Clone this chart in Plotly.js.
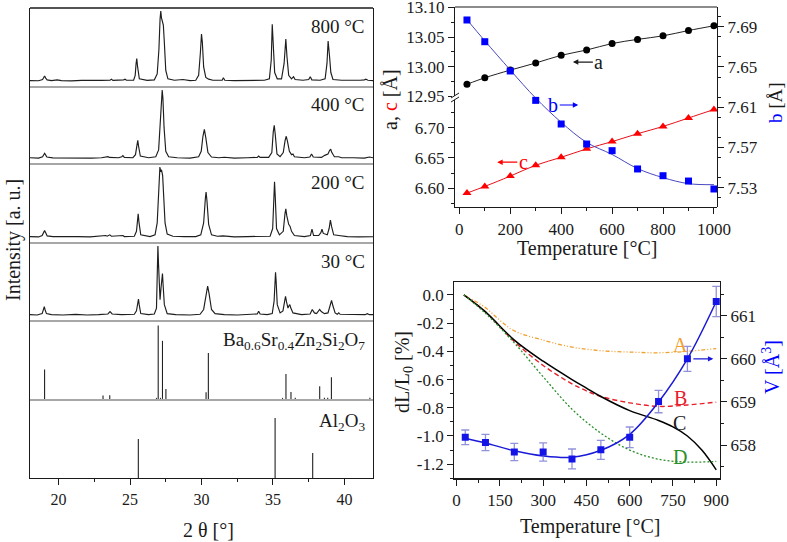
<!DOCTYPE html>
<html><head><meta charset="utf-8">
<script src="https://cdn.plot.ly/plotly-3.0.1.min.js"></script>
<style>html,body{margin:0;padding:0;background:#fff}#chart{width:787px;height:542px}</style>
</head><body><div id="chart"></div>
<script>
// ---------- XRD patterns (2θ, relative intensity) ----------
const xrd800 = [[18.0,0.5],[18.6,0.3],[18.88,2],[18.96,5],[19.02,7],[19.1,4],[19.2,1.5],[19.5,0.5],[19.9,1.5],[20.2,0.5],[20.9,0],[21.6,0.8],[22.4,0.3],[23.0,0.8],[23.6,1],[23.7,2.5],[23.8,0.8],[24.3,0.8],[24.55,1.5],[24.65,2.5],[24.75,1],[25.25,1],[25.36,8],[25.42,24],[25.47,32],[25.53,20],[25.65,3],[26.2,0.8],[26.7,1.5],[26.9,10],[27.02,45],[27.1,88],[27.15,100],[27.2,90],[27.27,84],[27.33,80],[27.4,55],[27.5,15],[27.65,3],[28.1,1],[28.7,2],[29.2,0.5],[29.6,1],[29.8,8],[29.92,40],[30.0,67],[30.06,55],[30.15,20],[30.3,5],[30.5,2.5],[30.8,1],[31.45,1],[31.53,4.5],[31.63,1],[32.3,0.5],[33.0,1],[33.7,0.5],[34.4,1],[34.75,3],[34.88,30],[34.95,81],[35.02,55],[35.12,12],[35.3,3],[35.6,3],[35.78,25],[35.86,58],[35.9,60],[35.98,35],[36.1,8],[36.3,3],[36.44,6],[36.55,2],[37.1,1],[37.5,2],[37.61,6],[37.72,1.5],[38.3,1],[38.65,3],[38.78,25],[38.86,57],[38.9,50],[38.96,35],[39.05,12],[39.2,2],[39.8,1],[40.5,0.5],[41.1,1],[41.4,1.5],[41.5,2.5],[41.65,1],[42.0,0.5]];
const xrd400 = [[18.0,0.5],[18.6,0],[18.88,2],[18.96,5],[19.02,7],[19.08,5],[19.18,1.5],[19.6,0.3],[20.5,0],[21.4,0.5],[22.3,0],[23.0,0.5],[23.38,1],[23.46,2],[23.55,1],[24.2,0.5],[24.42,2],[24.5,3.5],[24.6,1],[25.2,0.5],[25.38,5],[25.48,18],[25.54,26],[25.6,17],[25.72,3],[26.3,0.5],[26.8,2],[27.0,12],[27.12,50],[27.2,92],[27.25,100],[27.3,88],[27.38,45],[27.5,10],[27.7,2],[28.3,0.5],[29.2,0],[29.8,2],[29.98,10],[30.1,32],[30.2,42],[30.3,30],[30.45,8],[30.7,1.5],[31.2,0.5],[31.6,1.2],[32.3,0],[33.2,0.5],[33.9,1],[34.0,3],[34.1,1],[34.7,1],[34.92,8],[35.02,38],[35.09,48],[35.16,35],[35.28,6],[35.5,2],[35.72,8],[35.85,26],[35.93,32],[36.02,24],[36.15,10],[36.3,5],[36.4,6],[36.5,2],[37.2,0.5],[37.58,1.5],[37.7,6],[37.82,1.5],[38.4,1],[38.62,4],[38.7,5],[38.85,6],[38.96,11],[39.04,13],[39.12,8],[39.3,2],[39.6,2],[39.8,0.5],[40.6,0.5],[41.4,0],[41.75,1.5],[41.9,0.5],[42.0,0.5]];
const xrd200 = [[18.0,0.5],[18.6,0],[18.85,2],[18.95,6],[19.02,9],[19.1,6],[19.2,1.5],[19.6,0.5],[20.4,0],[21.3,0.5],[22.2,0],[23.0,1],[23.3,2],[23.4,1],[23.58,3],[23.7,1],[24.4,1],[24.5,2],[24.6,0.5],[25.3,1],[25.45,8],[25.52,22],[25.57,33],[25.63,20],[25.75,3],[26.4,0.5],[26.75,3],[26.9,20],[27.0,70],[27.09,100],[27.15,93],[27.2,96],[27.28,88],[27.35,60],[27.45,20],[27.6,4],[28.0,1],[28.8,0.5],[29.6,0.5],[29.95,3],[30.15,20],[30.27,55],[30.32,64],[30.38,52],[30.5,18],[30.7,3],[31.1,1],[31.5,1.5],[32.3,0],[33.2,0.5],[34.1,1],[34.8,1],[34.98,12],[35.06,60],[35.11,79],[35.16,58],[35.25,12],[35.45,3],[35.72,8],[35.84,33],[35.9,40],[35.97,30],[36.1,18],[36.2,15],[36.3,8],[36.5,2],[37.2,0.5],[37.62,2],[37.73,11],[37.84,2],[38.2,2],[38.35,6],[38.43,11],[38.52,5],[38.8,3],[38.93,12],[39.02,24],[39.1,15],[39.25,3],[39.6,2],[40.2,0.5],[41.0,0],[41.8,0.5],[42.0,0.3]];
const xrd30 = [[18.0,0.5],[18.5,0],[18.85,2],[18.95,8],[19.0,12],[19.05,8],[19.15,2],[19.5,0.5],[20.3,0],[21.2,0.8],[22.0,0],[22.8,0.5],[23.45,1.5],[23.6,5],[23.75,1.5],[24.4,0.5],[25.3,1],[25.45,6],[25.55,16],[25.59,23],[25.64,15],[25.75,2],[26.3,0.5],[26.7,1.5],[26.85,10],[26.92,60],[26.95,100],[26.99,75],[27.05,35],[27.1,22],[27.18,42],[27.24,58],[27.27,60],[27.31,45],[27.4,15],[27.6,2],[28.2,0.5],[29.2,0],[29.9,1],[30.15,8],[30.33,30],[30.43,42],[30.53,31],[30.7,8],[30.95,2],[31.6,0.5],[32.5,0],[33.3,0.8],[33.9,1.5],[34.0,5.5],[34.1,1.5],[34.6,0.5],[34.95,2],[35.08,20],[35.15,55],[35.18,62],[35.22,50],[35.3,15],[35.5,3],[35.7,6],[35.82,20],[35.88,27],[35.95,19],[36.05,10],[36.14,14],[36.18,15],[36.25,10],[36.4,3],[37.0,0.5],[37.6,1.5],[37.75,8],[37.9,3],[38.05,2],[38.18,5],[38.27,8],[38.38,5],[38.6,2],[38.85,3],[39.0,12],[39.1,21],[39.2,13],[39.35,3],[39.5,1],[39.6,3],[39.7,1],[40.3,0.5],[41.0,0],[41.45,0.5],[41.6,2],[41.75,0.5],[42.0,0.5]];
// reference patterns (stick positions / intensities)
const baPos = [19.02,23.11,23.58,26.85,26.97,27.13,27.27,27.51,30.32,30.48,35.67,35.91,36.26,36.56,38.27,38.6,38.83,39.09,41.78];
const baInt = [40,4.5,5,1.4,100,1.4,79,13.6,9,62.4,1.4,34,9.5,1.4,17.2,1.4,1.4,29.4,1.4];
const alPos = [25.58,35.15,37.78];
const alInt = [65,100,41.7];
const xrdLabels = ['800 °C','400 °C','200 °C','30 °C','Ba<sub>0.6</sub>Sr<sub>0.4</sub>Zn<sub>2</sub>Si<sub>2</sub>O<sub>7</sub>','Al<sub>2</sub>O<sub>3</sub>'];

// ---------- lattice parameters ----------
const latT = [30,100,200,300,400,500,600,700,800,900,1000];
const aVal = [12.970,12.981,12.994,13.006,13.019,13.028,13.039,13.046,13.052,13.061,13.069];
const cVal = [6.592,6.603,6.620,6.638,6.651,6.665,6.677,6.690,6.702,6.716,6.730];
const bVal = [7.6967,7.6751,7.646,7.6168,7.5933,7.5734,7.5668,7.5486,7.5419,7.5366,7.5287];
const bFit = [7.697,7.676,7.647,7.619,7.595,7.575,7.563,7.549,7.540,7.534,7.533];
const aTicks = [12.95,13.00,13.05,13.10];
const aTickText = ['12.95','13.00','13.05','13.10'];

// ---------- dilatometry and cell volume ----------
const dlAT = [25,100,150,200,300,400,500,600,700,800,900];
const dlA  = [0,-0.09,-0.18,-0.255,-0.32,-0.37,-0.395,-0.405,-0.41,-0.40,-0.38];
const dlBT = [25,100,200,300,400,450,500,600,700,800,900];
const dlB  = [0,-0.12,-0.33,-0.50,-0.63,-0.68,-0.72,-0.765,-0.79,-0.78,-0.76];
const dlCT = [25,100,200,300,400,450,500,600,700,750,800,850,900];
const dlC  = [0,-0.12,-0.32,-0.47,-0.60,-0.66,-0.72,-0.82,-0.89,-0.935,-1.0,-1.10,-1.24];
const dlDT = [25,100,200,300,400,500,600,700,800,900];
const dlD  = [0,-0.13,-0.34,-0.58,-0.81,-0.98,-1.10,-1.165,-1.185,-1.18];
const vT   = [30,100,200,300,400,500,600,700,800,900];
const vVal = [658.18,658.06,657.84,657.84,657.68,657.89,658.18,659.01,660.0,661.33];
const vErr = [0.17,0.19,0.2,0.21,0.23,0.22,0.24,0.26,0.29,0.35];
const vFit = [658.16,658.05,657.87,657.75,657.72,657.88,658.25,659.0,660.0,661.33];
const dlTicks = [-1.2,-1.0,-0.8,-0.6,-0.4,-0.2,0.0];
const dlTickText = ['-1.2','-1.0','-0.8','-0.6','-0.4','-0.2','0.0'];

// ---------- helpers ----------
const W=787,H=542;
const px=x=>x/W, py=y=>1-y/H;
const FONT='Liberation Serif, Times New Roman, serif';
const INK='#1a1a1a';
const split=pairs=>({x:pairs.map(p=>p[0]),y:pairs.map(p=>p[1])});
function sticks(pos,val){const x=[],y=[];pos.forEach((p,i)=>{x.push(p,p,null);y.push(0,val[i],null);});return {x,y};}

const traces=[];
[xrd800,xrd400,xrd200,xrd30].forEach((d,i)=>{
  const s=split(d);
  traces.push({x:s.x,y:s.y,xaxis:'x',yaxis:i===0?'y':'y'+(i+1),mode:'lines',line:{color:'#1e1e1e',width:1.15},hoverinfo:'skip'});
});
const sb=sticks(baPos,baInt), sa=sticks(alPos,alInt);
traces.push({x:sb.x,y:sb.y,xaxis:'x',yaxis:'y5',mode:'lines',line:{color:'#222',width:1.1}});
traces.push({x:sa.x,y:sa.y,xaxis:'x',yaxis:'y6',mode:'lines',line:{color:'#222',width:1.1}});

// lattice
traces.push({x:latT,y:aVal,xaxis:'x2',yaxis:'y7',mode:'lines+markers',line:{color:'#222',width:1,shape:'spline'},marker:{symbol:'circle',size:7,color:'#000'}});
traces.push({x:latT,y:cVal,xaxis:'x2',yaxis:'y8',mode:'lines+markers',line:{color:'#e8101a',width:1,shape:'spline'},marker:{symbol:'triangle-up',size:8,color:'#ff0000'}});
traces.push({x:latT,y:bFit,xaxis:'x2',yaxis:'y9',mode:'lines',line:{color:'#4848c0',width:1,shape:'spline'}});
traces.push({x:latT,y:bVal,xaxis:'x2',yaxis:'y9',mode:'markers',marker:{symbol:'square',size:7,color:'#0000ff'}});

// dilatometry
traces.push({x:dlAT,y:dlA,xaxis:'x3',yaxis:'y10',mode:'lines',line:{color:'#f0a030',width:1.3,dash:'4px,2px,1px,2px,1px,2px',shape:'spline'}});
traces.push({x:dlBT,y:dlB,xaxis:'x3',yaxis:'y10',mode:'lines',line:{color:'#e8202a',width:1.4,dash:'5px,3px',shape:'spline'}});
traces.push({x:dlCT,y:dlC,xaxis:'x3',yaxis:'y10',mode:'lines',line:{color:'#000',width:1.5,shape:'spline'}});
traces.push({x:dlDT,y:dlD,xaxis:'x3',yaxis:'y10',mode:'lines',line:{color:'#2a8f2a',width:1.3,dash:'2px,2px',shape:'spline'}});
traces.push({x:vT,y:vFit,xaxis:'x3',yaxis:'y11',mode:'lines',line:{color:'#1a1ad8',width:1.5,shape:'spline'}});
traces.push({x:vT,y:vVal,xaxis:'x3',yaxis:'y11',mode:'markers',marker:{symbol:'square',size:7,color:'#1414e6'},
  error_y:{type:'data',array:vErr,visible:true,color:'rgba(110,110,205,0.75)',thickness:1.3,width:4}});

// ---------- layout ----------
const tickFont={family:FONT,size:17,color:INK};
const tickFontL={family:FONT,size:16,color:INK};
const bounds=[8,87,164,243,321,400,478];
const yr=[[-8.7,104.3],[-8.7,104.3],[-8.7,104.3],[-8.7,104.3],[-1.5,106],[0,130]];
const layout={width:W,height:H,margin:{l:0,r:0,t:0,b:0},showlegend:false,
  paper_bgcolor:'#fff',plot_bgcolor:'rgba(0,0,0,0)',font:{family:FONT,color:INK},
  xaxis:{domain:[px(30),px(373)],range:[18,42],anchor:'y6',showline:true,linecolor:INK,linewidth:1.3,
    ticks:'outside',ticklen:6,tickcolor:INK,tick0:20,dtick:5,tickfont:tickFontL,showgrid:false,zeroline:false,
    minor:{ticks:'outside',dtick:2.5,ticklen:3,tickcolor:INK}},
  xaxis2:{domain:[px(455),px(717)],range:[-17,1012],anchor:'y8',showline:true,linecolor:INK,linewidth:1.2,
    ticks:'outside',ticklen:6,tickcolor:INK,tick0:0,dtick:200,tickfont:tickFont,showgrid:false,zeroline:false,
    minor:{ticks:'outside',dtick:100,ticklen:3,tickcolor:INK}},
  xaxis3:{domain:[px(454.3),px(720)],range:[-8,913],anchor:'y10',showline:true,mirror:true,linecolor:INK,linewidth:1.2,
    ticks:'outside',ticklen:6,tickcolor:INK,tick0:0,dtick:150,tickfont:tickFont,showgrid:false,zeroline:false,
    minor:{ticks:'outside',dtick:75,ticklen:3,tickcolor:INK}},
  yaxis7:{domain:[py(98),py(7)],range:[12.9468,13.1008],anchor:'x2',showline:true,linecolor:INK,linewidth:1.2,
    ticks:'outside',ticklen:6,tickcolor:INK,tickvals:aTicks,ticktext:aTickText,tickfont:tickFont,showgrid:false,zeroline:false,
    ticklabeloverflow:'allow',
    minor:{ticks:'outside',tick0:12.95,dtick:0.025,ticklen:3,tickcolor:INK}},
  yaxis8:{domain:[py(207),py(98)],range:[6.569,6.749],anchor:'x2',showline:true,linecolor:INK,linewidth:1.2,
    ticks:'outside',ticklen:6,tickcolor:INK,tick0:6.6,dtick:0.05,tickformat:'.2f',tickfont:tickFont,showgrid:false,zeroline:false,
    minor:{ticks:'outside',dtick:0.025,ticklen:3,tickcolor:INK}},
  yaxis9:{domain:[py(207),py(7)],range:[7.5108,7.7096],anchor:'x2',side:'right',showline:true,linecolor:INK,linewidth:1.2,
    ticks:'outside',ticklen:6,tickcolor:INK,tick0:7.53,dtick:0.04,tickformat:'.2f',tickfont:tickFont,showgrid:false,zeroline:false,
    minor:{ticks:'outside',dtick:0.02,ticklen:3,tickcolor:INK}},
  yaxis10:{domain:[py(478.3),py(281.7)],range:[-1.3,0.094],anchor:'x3',showline:true,linecolor:INK,linewidth:1.2,
    ticks:'outside',ticklen:6,tickcolor:INK,tickvals:dlTicks,ticktext:dlTickText,tickfont:tickFont,showgrid:false,zeroline:false,
    minor:{ticks:'outside',dtick:0.1,ticklen:3,tickcolor:INK}},
  yaxis11:{overlaying:'y10',anchor:'x3',side:'right',range:[657.23,661.79],showline:true,linecolor:INK,linewidth:1.2,
    ticks:'outside',ticklen:6,tickcolor:INK,tick0:658,dtick:1,tickfont:tickFont,showgrid:false,zeroline:false,
    minor:{ticks:'outside',dtick:0.5,ticklen:3,tickcolor:INK}},
  shapes:[],annotations:[]
};
for(let i=0;i<6;i++){
  const key=i===0?'yaxis':'yaxis'+(i+1);
  layout[key]={domain:[py(bounds[i+1]),py(bounds[i])],range:yr[i],anchor:'x',showline:true,mirror:true,
    linecolor:INK,linewidth:1.3,ticks:'',showticklabels:false,showgrid:false,zeroline:false};
}
// left frame top + dividers
layout.shapes.push({type:'line',xref:'paper',yref:'paper',x0:px(30),x1:px(373),y0:py(8),y1:py(8),line:{color:INK,width:1.3}});
[87,164,243,321,400].forEach(b=>layout.shapes.push({type:'line',xref:'paper',yref:'paper',x0:px(30),x1:px(373),y0:py(b),y1:py(b),line:{color:'#8a8a8a',width:1.6}}));
// top-right frame top + axis break
layout.shapes.push({type:'line',xref:'paper',yref:'paper',x0:px(455),x1:px(717),y0:py(7),y1:py(7),line:{color:INK,width:1.2}});
layout.shapes.push({type:'rect',xref:'paper',yref:'paper',x0:px(452),x1:px(458),y0:py(100),y1:py(96),fillcolor:'#fff',line:{width:0}});
layout.shapes.push({type:'line',xref:'paper',yref:'paper',x0:px(451),x1:px(459),y0:py(102),y1:py(97),line:{color:INK,width:1}});
layout.shapes.push({type:'line',xref:'paper',yref:'paper',x0:px(451),x1:px(459),y0:py(98),y1:py(93),line:{color:INK,width:1}});

const A=layout.annotations;
const ann=(o)=>A.push(Object.assign({showarrow:false,font:{family:FONT,size:20,color:INK}},o));
// XRD labels
const labY=[26,104.5,182,261,341,422];
xrdLabels.forEach((t,i)=>ann({text:t,xref:'paper',yref:'paper',x:px(367),y:py(labY[i]),xanchor:'right',yanchor:'middle',font:{family:FONT,size:19,color:INK}}));
// axis titles
ann({text:'Intensity [a. u.]',xref:'paper',yref:'paper',x:px(13),y:py(240),textangle:-90,xanchor:'center',yanchor:'middle'});
ann({text:'2 θ [°]',xref:'paper',yref:'paper',x:px(209),y:py(530),xanchor:'center',yanchor:'middle'});
ann({text:'Temperature [°C]',xref:'paper',yref:'paper',x:px(587),y:py(248),xanchor:'center',yanchor:'middle'});
ann({text:'Temperature [°C]',xref:'paper',yref:'paper',x:px(590),y:py(526),xanchor:'center',yanchor:'middle'});
ann({text:'a, <span style="color:#ff0000">c</span> [Å]',xref:'paper',yref:'paper',x:px(390),y:py(100),textangle:-90,xanchor:'center',yanchor:'middle'});
ann({text:'<span style="color:#0000ff">b</span> [Å]',xref:'paper',yref:'paper',x:px(776),y:py(103),textangle:-90,xanchor:'center',yanchor:'middle',font:{family:FONT,size:19,color:INK}});
ann({text:'dL/L<sub>0</sub> [%]',xref:'paper',yref:'paper',x:px(403),y:py(372),textangle:-90,xanchor:'center',yanchor:'middle'});
ann({text:'V [Å<sup>3</sup>]',xref:'paper',yref:'paper',x:px(771),y:py(367),textangle:-90,xanchor:'center',yanchor:'middle',font:{family:FONT,size:20,color:'#0000ff'}});
// arrows with labels
const arr=(o)=>A.push(Object.assign({showarrow:true,arrowhead:2,arrowsize:0.9,arrowwidth:1.2,standoff:0,ay:0,font:{family:FONT,size:20,color:INK}},o));
arr({text:'a',xref:'x2',yref:'y7',x:446,y:13.0076,ax:26,arrowcolor:INK});
arr({text:'b',xref:'x2',yref:'y9',x:467,y:7.6122,ax:-25,arrowcolor:'#0000ff',font:{family:FONT,size:20,color:'#0000ff'}});
arr({text:'c',xref:'x2',yref:'y8',x:149,y:6.643,ax:26,arrowcolor:'#ff0000',font:{family:FONT,size:20,color:'#ff0000'}});
arr({text:' ',xref:'x3',yref:'y11',x:890,y:660.0,ax:-24,arrowcolor:'#1a1ad8'});
// curve labels
ann({text:'A',xref:'x3',yref:'y10',x:775,y:-0.355,font:{family:FONT,size:20,color:'#f0a030'}});
ann({text:'B',xref:'x3',yref:'y10',x:775,y:-0.73,font:{family:FONT,size:20,color:'#e8202a'}});
ann({text:'C',xref:'x3',yref:'y10',x:773,y:-0.908,font:{family:FONT,size:20,color:INK}});
ann({text:'D',xref:'x3',yref:'y10',x:775,y:-1.149,font:{family:FONT,size:20,color:'#2a8f2a'}});

Plotly.newPlot('chart',traces,layout,{staticPlot:true,displayModeBar:false});
</script></body></html>
